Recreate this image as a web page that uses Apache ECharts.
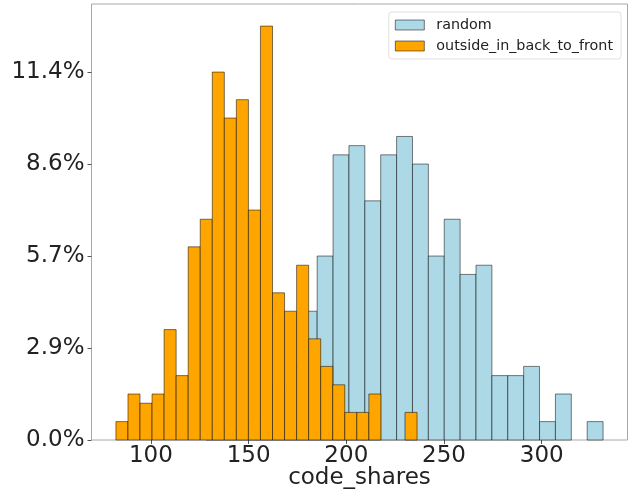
<!DOCTYPE html>
<html>
<head>
<meta charset="utf-8">
<script src="https://cdn.jsdelivr.net/npm/echarts@6/dist/echarts.min.js"></script>
<style>html,body{margin:0;padding:0;background:#fff}#c{width:629px;height:493px}</style>
</head>
<body>
<div id="c"></div>
<script>
// Histogram counts (25 bins each)
const seriesNames = ['random', 'outside_in_back_to_front'];
const randomCounts = [1, 1, 2, 3, 6, 8, 14, 20, 31, 32, 26, 31, 33, 30, 20, 24, 18, 19, 7, 7, 8, 2, 5, 0, 2];
const orangeCounts = [2, 5, 4, 5, 12, 7, 21, 24, 40, 35, 37, 25, 45, 16, 14, 19, 11, 8, 6, 3, 3, 5, 0, 0, 3];
// Data range (first and last bin edge) of each sample
const randomRange = [128.2, 331.4];
const orangeRange = [82.1, 236.2];
const totalCount = 350;
const xTicks = [100, 150, 200, 250, 300];
const yTicks = [0, 10, 20, 30, 40];

function toBins(counts, range) {
  const w = (range[1] - range[0]) / counts.length;
  return counts.map((c, i) => [range[0] + i * w, range[0] + (i + 1) * w, c]);
}

const font = 'DejaVu Sans';
const edge = 'rgba(0,0,0,0.5)';

function renderBar(params, api) {
  if (api.value(2) <= 0) return null;
  const p0 = api.coord([api.value(0), api.value(2)]);
  const p1 = api.coord([api.value(1), 0]);
  return {
    type: 'rect',
    shape: { x: p0[0], y: p0[1], width: p1[0] - p0[0], height: p1[1] - p0[1] },
    style: api.style()
  };
}

const chart = echarts.init(document.getElementById('c'), null, { renderer: 'canvas' });
chart.setOption({
  animation: false,
  backgroundColor: '#fff',
  grid: { left: 91.5, right: 1.5, top: 4, bottom: 53, outerBoundsMode: 'none', containLabel: false, show: true, borderColor: '#a8a8a8', borderWidth: 1, backgroundColor: 'transparent' },
  legend: {
    orient: 'vertical', right: 8, top: 12,
    itemWidth: 29, itemHeight: 10, itemGap: 7,
    padding: [6, 8, 6, 6],
    backgroundColor: '#fff', borderColor: '#e0e0e0', borderWidth: 1, borderRadius: 3,
    textStyle: { fontFamily: font, fontSize: 14.3, color: '#222', padding: [0, 0, 0, 7] },
    data: [
      { name: seriesNames[0], icon: 'rect', itemStyle: { color: '#add8e6', borderColor: edge, borderWidth: 1 } },
      { name: seriesNames[1], icon: 'rect', itemStyle: { color: '#ffa500', borderColor: edge, borderWidth: 1 } }
    ]
  },
  xAxis: {
    type: 'value', min: 69.6, max: 343.9,
    name: 'code_shares', nameLocation: 'middle', nameGap: 27, nameMoveOverlap: false,
    nameTextStyle: { fontFamily: font, fontSize: 23, color: '#222' },
    axisLine: { show: false },
    axisTick: { show: true, length: 4, lineStyle: { color: '#555' }, customValues: xTicks },
    axisLabel: { fontFamily: font, fontSize: 23, color: '#222', margin: 5, customValues: xTicks },
    splitLine: { show: false }
  },
  yAxis: {
    type: 'value', min: 0, max: 47.4,
    axisLine: { show: false },
    axisTick: { show: true, length: 4, lineStyle: { color: '#555' }, customValues: yTicks },
    axisLabel: {
      fontFamily: font, fontSize: 23, color: '#222', margin: 7, customValues: yTicks,
      formatter: v => (v / totalCount * 100).toFixed(1) + '%'
    },
    splitLine: { show: false }
  },
  series: [
    {
      name: seriesNames[0], type: 'custom', renderItem: renderBar,
      itemStyle: { color: '#add8e6', borderColor: edge, borderWidth: 1 },
      encode: { x: [0, 1], y: 2 },
      data: toBins(randomCounts, randomRange)
    },
    {
      name: seriesNames[1], type: 'custom', renderItem: renderBar,
      itemStyle: { color: '#ffa500', borderColor: edge, borderWidth: 1 },
      encode: { x: [0, 1], y: 2 },
      data: toBins(orangeCounts, orangeRange)
    }
  ]
});
</script>
</body>
</html>
